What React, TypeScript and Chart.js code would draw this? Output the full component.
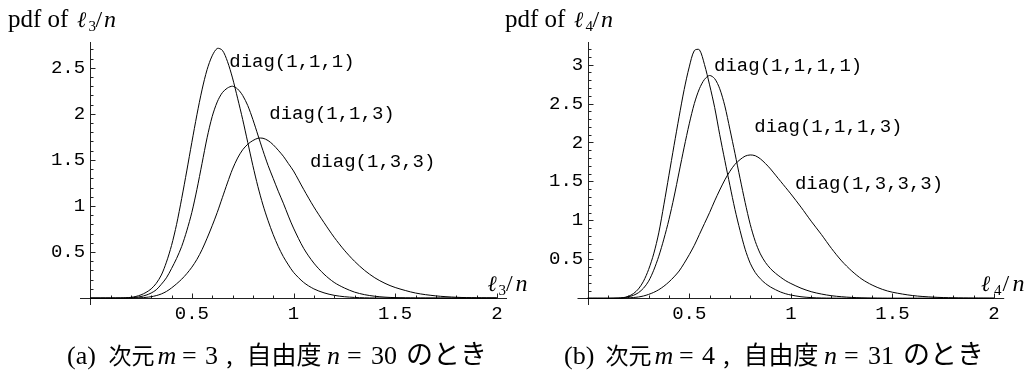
import React, { useEffect, useRef } from "react";
import { Chart, registerables } from "chart.js";

Chart.register(...registerables);

// ---------- data ----------
const XS = [0, 0.1, 0.15, 0.175, 0.2, 0.225, 0.25, 0.275, 0.3, 0.325, 0.35, 0.375, 0.4, 0.425, 0.45, 0.475, 0.5, 0.525, 0.55, 0.575, 0.6, 0.625, 0.65, 0.675, 0.7, 0.725, 0.75, 0.775, 0.8, 0.825, 0.85, 0.875, 0.9, 0.925, 0.95, 0.975, 1.0, 1.05, 1.1, 1.15, 1.2, 1.25, 1.3, 1.35, 1.4, 1.45, 1.5, 1.6, 1.7, 1.8, 1.9, 2.0];

// panel (a): pdf of l3/n, m = 3, n = 30
const PDF_111 = [0, 0, 0.001, 0.003, 0.008, 0.018, 0.035, 0.062, 0.1, 0.16, 0.25, 0.39, 0.57, 0.8, 1.08, 1.38, 1.69, 1.99, 2.26, 2.48, 2.63, 2.71, 2.69, 2.57, 2.39, 2.17, 1.94, 1.69, 1.44, 1.21, 1.01, 0.84, 0.69, 0.56, 0.45, 0.36, 0.28, 0.17, 0.1, 0.057, 0.03, 0.015, 0.007, 0.003, 0.001, 0, 0, 0, 0, 0, 0, 0];
const PDF_113 = [0, 0, 0, 0.001, 0.003, 0.008, 0.017, 0.032, 0.055, 0.09, 0.15, 0.22, 0.32, 0.43, 0.56, 0.73, 0.93, 1.18, 1.46, 1.74, 1.97, 2.13, 2.23, 2.28, 2.3, 2.27, 2.2, 2.09, 1.94, 1.77, 1.6, 1.44, 1.3, 1.16, 1.03, 0.89, 0.76, 0.54, 0.38, 0.26, 0.17, 0.11, 0.065, 0.037, 0.02, 0.01, 0.005, 0.001, 0, 0, 0, 0];
const PDF_133 = [0, 0, 0, 0, 0.001, 0.002, 0.004, 0.008, 0.015, 0.027, 0.045, 0.072, 0.11, 0.155, 0.205, 0.265, 0.335, 0.42, 0.525, 0.65, 0.785, 0.93, 1.09, 1.25, 1.4, 1.52, 1.61, 1.67, 1.71, 1.735, 1.735, 1.71, 1.665, 1.605, 1.54, 1.46, 1.38, 1.18, 0.99, 0.82, 0.66, 0.52, 0.4, 0.3, 0.22, 0.16, 0.115, 0.055, 0.024, 0.009, 0.003, 0.001];

// panel (b): pdf of l4/n, m = 4, n = 31
const PDF_1111 = [0, 0, 0.002, 0.008, 0.025, 0.06, 0.12, 0.22, 0.37, 0.57, 0.84, 1.2, 1.58, 1.96, 2.33, 2.68, 2.97, 3.18, 3.19, 3.0, 2.74, 2.45, 2.1, 1.77, 1.45, 1.14, 0.87, 0.63, 0.45, 0.33, 0.25, 0.19, 0.145, 0.11, 0.08, 0.058, 0.042, 0.02, 0.009, 0.004, 0.002, 0.001, 0, 0, 0, 0, 0, 0, 0, 0, 0, 0];
const PDF_1113 = [0, 0, 0.002, 0.007, 0.018, 0.038, 0.072, 0.13, 0.22, 0.36, 0.54, 0.76, 1.01, 1.3, 1.62, 1.94, 2.24, 2.5, 2.69, 2.81, 2.86, 2.82, 2.69, 2.47, 2.17, 1.86, 1.54, 1.23, 0.95, 0.73, 0.57, 0.46, 0.38, 0.32, 0.27, 0.225, 0.19, 0.13, 0.085, 0.055, 0.033, 0.02, 0.011, 0.006, 0.003, 0.001, 0, 0, 0, 0, 0, 0];
const PDF_1333 = [0, 0, 0.001, 0.003, 0.006, 0.01, 0.017, 0.03, 0.05, 0.076, 0.11, 0.155, 0.21, 0.275, 0.35, 0.45, 0.56, 0.68, 0.82, 0.96, 1.1, 1.25, 1.39, 1.52, 1.63, 1.72, 1.78, 1.825, 1.84, 1.83, 1.79, 1.73, 1.66, 1.58, 1.5, 1.42, 1.34, 1.17, 0.99, 0.82, 0.64, 0.48, 0.35, 0.245, 0.17, 0.115, 0.078, 0.035, 0.015, 0.006, 0.002, 0.001];

const X_TICKS = [0.5, 1, 1.5, 2];
const Y_TICKS_A = [0.5, 1, 1.5, 2, 2.5];
const Y_TICKS_B = [0.5, 1, 1.5, 2, 2.5, 3];

const NAMES_A = ["diag(1,1,1)", "diag(1,1,3)", "diag(1,3,3)"];
const NAMES_B = ["diag(1,1,1,1)", "diag(1,1,1,3)", "diag(1,3,3,3)"];

const CAPTION_A = ["(a)", "次元", "m", "=", "3", ",", "自由度", "n", "=", "30", "のとき"];
const CAPTION_B = ["(b)", "次元", "m", "=", "4", ",", "自由度", "n", "=", "31", "のとき"];

const SUB_A = "3";
const SUB_B = "4";

// ---------- styling ----------
const SERIF = '"Liberation Serif", "DejaVu Serif", serif';
const MATH = '"DejaVu Serif", "Liberation Serif", serif';
const MONO = '"Liberation Mono", "DejaVu Sans Mono", monospace';
const CJK = '"Noto Sans CJK JP", "Noto Sans CJK SC", sans-serif';

type Seg = { t: string; f: string; x: number; dy?: number };

const CAPTION_FONTS = [
  `26px ${SERIF}`, `23px ${CJK}`, `italic 26px ${SERIF}`, `26px ${SERIF}`, `26px ${SERIF}`,
  `24px ${CJK}`, `25px ${CJK}`, `italic 26px ${SERIF}`, `26px ${SERIF}`, `26px ${SERIF}`, `27px ${CJK}`,
];
const CAPTION_X = [67, 108.5, 157.5, 182, 205, 226, 246.5, 327, 347, 371, 406];

type PanelCfg = {
  canvasLeft: number;
  canvasWidth: number;
  pageOffset: number;
  padding: { left: number; right: number; top: number; bottom: number };
  yMin: number;
  yMax: number;
  yTicks: number[];
  labelX: number;
  series: number[][];
  names: string[];
  nameAnchors: { x: number; y: number }[];
  caption: string[];
  sub: string;
  axisLabelX: number[];
};

const PANELS: PanelCfg[] = [
  {
    canvasLeft: 0,
    canvasWidth: 545,
    pageOffset: 0,
    padding: { left: 80, right: 38, top: 42, bottom: 66 },
    yMin: -0.075,
    yMax: 2.78,
    yTicks: Y_TICKS_A,
    labelX: -0.025,
    series: [PDF_111, PDF_113, PDF_133],
    names: NAMES_A,
    nameAnchors: [{ x: 0.684, y: 2.507 }, { x: 0.881, y: 1.946 }, { x: 1.081, y: 1.422 }],
    caption: CAPTION_A,
    sub: SUB_A,
    axisLabelX: [487.5, 498.5, 506, 515.5],
  },
  {
    canvasLeft: 500,
    canvasWidth: 530,
    pageOffset: 497,
    padding: { left: 77.5, right: 25.8, top: 42, bottom: 66 },
    yMin: -0.086,
    yMax: 3.29,
    yTicks: Y_TICKS_B,
    labelX: -0.022,
    series: [PDF_1111, PDF_1113, PDF_1333],
    names: NAMES_B,
    nameAnchors: [{ x: 0.622, y: 2.92 }, { x: 0.82, y: 2.13 }, { x: 1.02, y: 1.4 }],
    caption: CAPTION_B,
    sub: SUB_B,
    axisLabelX: [981, 994, 1002.5, 1012.5],
  },
];

function drawSegs(ctx: CanvasRenderingContext2D, segs: Seg[], baseY: number, ox: number) {
  for (const s of segs) {
    ctx.font = s.f;
    ctx.fillText(s.t, s.x - ox, baseY + (s.dy || 0));
  }
}

function makePlugin(p: PanelCfg) {
  return {
    id: "mmaDecor",
    beforeDatasetsDraw(chart: any) {
      const { ctx, chartArea } = chart;
      const xs = chart.scales.x;
      const ys = chart.scales.y;
      const x0 = Math.round(xs.getPixelForValue(0)) + 0.5;
      const y0 = Math.round(ys.getPixelForValue(0)) + 0.5;
      ctx.save();
      ctx.strokeStyle = "#222";
      ctx.lineWidth = 1;
      ctx.beginPath();
      ctx.moveTo(chartArea.left, y0);
      ctx.lineTo(chartArea.right, y0);
      ctx.moveTo(x0, chartArea.top);
      ctx.lineTo(x0, chartArea.bottom);
      // x ticks (minor every 0.1, major every 0.5), pointing up
      for (let k = 1; k <= 20; k++) {
        const v = k / 10;
        const px = Math.round(xs.getPixelForValue(v)) + 0.5;
        const len = k % 5 === 0 ? 5 : 3;
        ctx.moveTo(px, y0);
        ctx.lineTo(px, y0 - len);
      }
      // y ticks pointing right
      const kmax = Math.floor(p.yMax * 10 + 1e-6);
      for (let k = 1; k <= kmax; k++) {
        const v = k / 10;
        const py = Math.round(ys.getPixelForValue(v)) + 0.5;
        const len = k % 5 === 0 ? 5 : 3;
        ctx.moveTo(x0, py);
        ctx.lineTo(x0 + len, py);
      }
      ctx.stroke();
      ctx.restore();
    },
    afterDraw(chart: any) {
      const { ctx } = chart;
      const xs = chart.scales.x;
      const ys = chart.scales.y;
      const ox = p.canvasLeft;
      const po = p.pageOffset;
      ctx.save();
      ctx.fillStyle = "#000";
      ctx.textBaseline = "alphabetic";
      ctx.textAlign = "left";
      // curve names
      ctx.font = `19px ${MONO}`;
      p.names.forEach((name, i) => {
        const a = p.nameAnchors[i];
        ctx.fillText(name, xs.getPixelForValue(a.x), ys.getPixelForValue(a.y));
      });
      // title "pdf of l_k/n"
      drawSegs(
        ctx,
        [
          { t: "pdf of", f: `25px ${SERIF}`, x: 8 + po },
          { t: "ℓ", f: `italic 22px ${MATH}`, x: 77 + po },
          { t: p.sub, f: `15px ${SERIF}`, x: 88.5 + po, dy: 4 },
          { t: "/", f: `24px ${SERIF}`, x: 95.5 + po },
          { t: "n", f: `italic 24px ${SERIF}`, x: 104 + po },
        ],
        26.5,
        ox
      );
      // x-axis label
      const ax = p.axisLabelX;
      drawSegs(
        ctx,
        [
          { t: "ℓ", f: `italic 22px ${MATH}`, x: ax[0] },
          { t: p.sub, f: `15px ${SERIF}`, x: ax[1], dy: 4 },
          { t: "/", f: `24px ${SERIF}`, x: ax[2] },
          { t: "n", f: `italic 24px ${SERIF}`, x: ax[3] },
        ],
        290.5,
        ox
      );
      // caption
      drawSegs(
        ctx,
        p.caption.map((t, i) => ({ t, f: CAPTION_FONTS[i], x: CAPTION_X[i] + po })),
        363.5,
        ox
      );
      ctx.restore();
    },
  };
}

function makeChart(canvas: HTMLCanvasElement, p: PanelCfg) {
  const datasets = p.series.map((ys) => ({
    data: XS.map((x, i) => ({ x, y: ys[i] })),
    showLine: true,
    borderColor: "#000",
    borderWidth: 1,
    pointRadius: 0,
    pointHoverRadius: 0,
    fill: false,
    tension: 0.3,
  }));
  const tickFont = { family: MONO, size: 19 };
  return new Chart(canvas, {
    type: "scatter",
    data: { datasets },
    plugins: [makePlugin(p)],
    options: {
      responsive: false,
      animation: false,
      events: [],
      layout: { padding: p.padding },
      plugins: { legend: { display: false }, tooltip: { enabled: false } },
      scales: {
        x: {
          type: "linear",
          min: -0.05,
          max: 2.05,
          position: { y: 0 },
          grid: { display: false, drawTicks: false },
          border: { display: false },
          afterBuildTicks: (s: any) => {
            s.ticks = X_TICKS.map((v) => ({ value: v }));
          },
          ticks: {
            color: "#000",
            font: tickFont,
            padding: 4,
            autoSkip: false,
            maxRotation: 0,
            minRotation: 0,
            callback: (v: any) => String(v),
          },
        },
        y: {
          type: "linear",
          min: p.yMin,
          max: p.yMax,
          position: { x: p.labelX },
          grid: { display: false, drawTicks: false },
          border: { display: false },
          afterBuildTicks: (s: any) => {
            s.ticks = p.yTicks.map((v) => ({ value: v }));
          },
          ticks: {
            color: "#000",
            font: tickFont,
            padding: 0,
            autoSkip: false,
            callback: (v: any) => String(v),
          },
        },
      },
    } as any,
  });
}

export default function App() {
  const leftRef = useRef<HTMLCanvasElement | null>(null);
  const rightRef = useRef<HTMLCanvasElement | null>(null);

  useEffect(() => {
    const charts: Chart[] = [];
    if (leftRef.current) charts.push(makeChart(leftRef.current, PANELS[0]));
    if (rightRef.current) charts.push(makeChart(rightRef.current, PANELS[1]));
    return () => charts.forEach((c) => c.destroy());
  }, []);

  return (
    <div style={{ position: "absolute", left: 0, top: 0, width: 1030, height: 371, background: "#fff", overflow: "hidden" }}>
      <canvas
        ref={leftRef}
        width={PANELS[0].canvasWidth}
        height={371}
        style={{ position: "absolute", left: PANELS[0].canvasLeft, top: 0, width: PANELS[0].canvasWidth, height: 371 }}
      />
      <canvas
        ref={rightRef}
        width={PANELS[1].canvasWidth}
        height={371}
        style={{ position: "absolute", left: PANELS[1].canvasLeft, top: 0, width: PANELS[1].canvasWidth, height: 371 }}
      />
    </div>
  );
}
